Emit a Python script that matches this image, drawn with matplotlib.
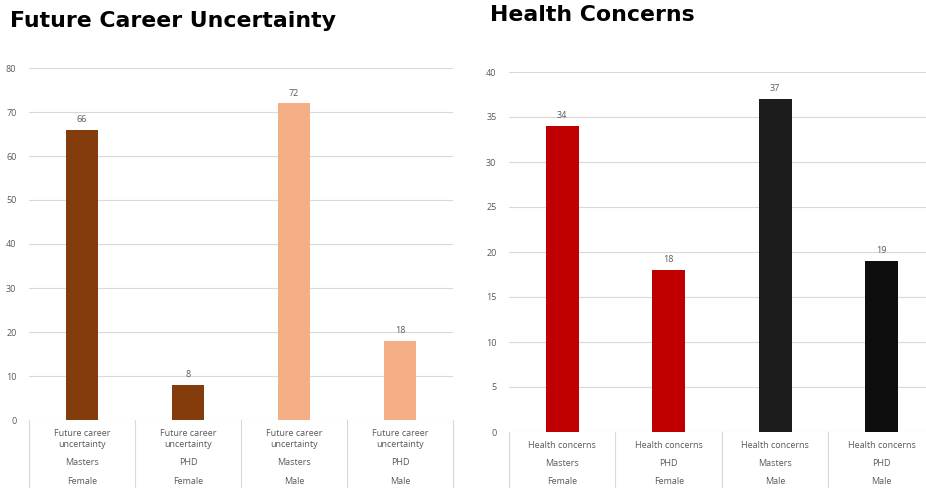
import matplotlib.pyplot as plt
from matplotlib.transforms import blended_transform_factory

# data
career_labels = ["Future career\nuncertainty"] * 4
health_labels = ["Health concerns"] * 4
degrees = ["Masters", "PHD", "Masters", "PHD"]
genders = ["Female", "Female", "Male", "Male"]
career_values = [66, 8, 72, 18]
health_values = [34, 18, 37, 19]
career_colors = ["#843C0C", "#843C0C", "#F4AE86", "#F4AE86"]
health_colors = ["#C00000", "#C00000", "#1C1C1C", "#0E0E0E"]

plt.rcParams['font.family'] = ['Open Sans', 'DejaVu Sans']
W, H = 926, 488
grey = "#595959"
line = "#D9D9D9"

fig = plt.figure(figsize=(W / 100, H / 100), dpi=100)


def panel(x0, x1, y_top, y_bot, ymax, step, values, colors, row1, title, tx, ty, row1_y):
    ax = fig.add_axes([x0 / W, 1 - y_bot / H, (x1 - x0) / W, (y_bot - y_top) / H])
    xs = range(len(values))
    ax.bar(xs, values, width=0.31, color=colors, zorder=3)
    ax.set_xlim(-0.5, len(values) - 0.5)
    ax.set_ylim(0, ymax)
    ax.set_yticks(range(0, ymax + 1, step))
    ax.tick_params(axis='y', length=0, pad=9, labelsize=6.5, labelcolor=grey)
    ax.set_xticks([])
    for s in ax.spines.values():
        s.set_visible(False)
    ax.grid(axis='y', color=line, lw=0.8, zorder=0)
    for x, v in zip(xs, values):
        ax.annotate(str(v), (x, v), xytext=(0, 4), textcoords='offset points',
                    ha='center', va='bottom', fontsize=6.5, color=grey)
    # category table below the axis
    tr = blended_transform_factory(ax.transData, ax.transAxes)
    depth = (H - y_bot) / (y_bot - y_top)
    for b in [i - 0.5 for i in range(len(values) + 1)]:
        ax.plot([b, b], [0, -depth], transform=tr, color=line, lw=0.8, clip_on=False)
    for x in xs:
        for txt, py in [(row1[x], row1_y), (degrees[x], 463), (genders[x], 482)]:
            ax.annotate(txt, (x, 0), xycoords=tr, xytext=(0, -(py - y_bot) * 0.72),
                        textcoords='offset points', ha='center', va='center',
                        fontsize=6.5, color=grey, linespacing=1.2)
    fig.text(tx / W, 1 - ty / H, title, fontsize=15.8, fontweight='bold',
             family=['DejaVu Sans'], color='black', va='center', ha='left')
    return ax


panel(29, 453, 68, 420, 80, 10, career_values, career_colors, career_labels,
      "Future Career Uncertainty", 10, 21, 439)
panel(509, 935, 72, 432, 40, 5, health_values, health_colors, health_labels,
      "Health Concerns", 490, 15, 445)

fig.savefig("out.png", dpi=100)
